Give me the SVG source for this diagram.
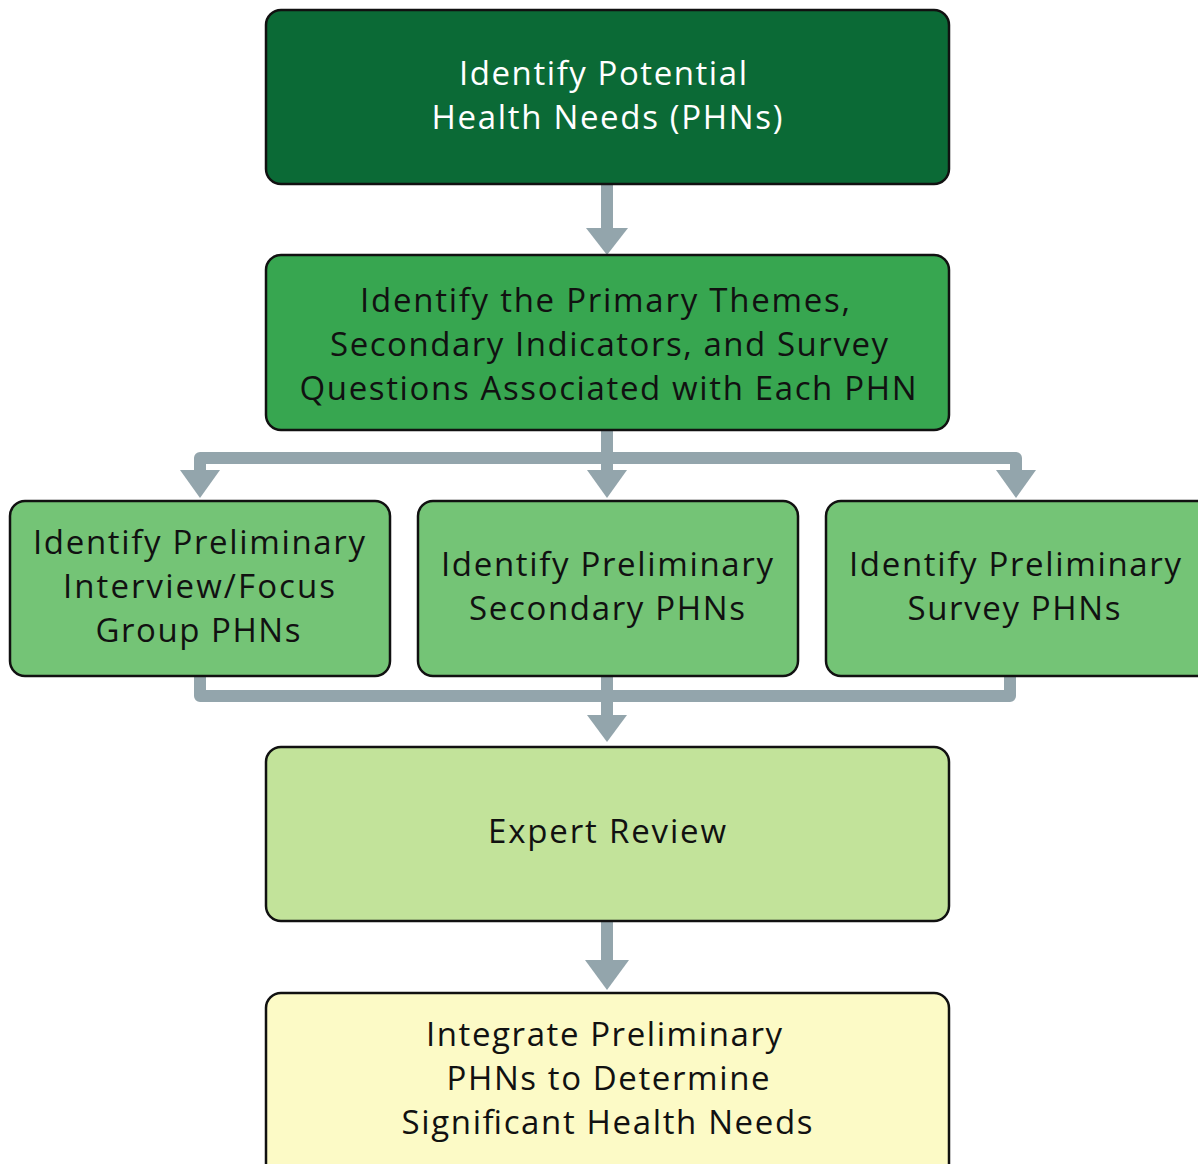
<svg xmlns="http://www.w3.org/2000/svg" width="1198" height="1164" viewBox="0 0 1198 1164">
<style>
.box{stroke:#111;stroke-width:2.5}
.t{font-family:"Open Sans","Liberation Sans",sans-serif;font-size:33px;text-anchor:middle;fill:#111}
.w{fill:#fff}
.c{fill:none;stroke:#93a5ac;stroke-width:12;stroke-linejoin:round;stroke-linecap:butt}
.h{fill:#93a5ac}
</style>
<rect width="1198" height="1164" fill="#fff"/>
<g id="connectors">
<path class="c" d="M607 184V230"/>
<polygon class="h" points="586,228 628,228 607,255"/>
<path class="c" d="M607 430V458"/>
<path class="c" d="M200 472V458H1016V472"/>
<path class="c" d="M607 458V472"/>
<polygon class="h" points="180,470 220,470 200,498"/>
<polygon class="h" points="587,470 627,470 607,498"/>
<polygon class="h" points="996,470 1036,470 1016,498"/>
<path class="c" d="M200 676V696H1010V676"/>
<path class="c" d="M607 676V718"/>
<polygon class="h" points="587,715 627,715 607,742"/>
<path class="c" d="M607 921V962"/>
<polygon class="h" points="585,960 629,960 607,990"/>
</g>
<g id="n1">
<rect class="box" x="266" y="10" width="683" height="174" rx="15" fill="#0b6a36"/>
<text class="t w" x="603" y="85" textLength="288" lengthAdjust="spacing">Identify Potential</text>
<text class="t w" x="607" y="129" textLength="351" lengthAdjust="spacing">Health Needs (PHNs)</text>
</g>
<g id="n2">
<rect class="box" x="266" y="255" width="683" height="175" rx="15" fill="#37a650"/>
<text class="t" x="605" y="312" textLength="490" lengthAdjust="spacing">Identify the Primary Themes,</text>
<text class="t" x="609" y="356" textLength="558" lengthAdjust="spacing">Secondary Indicators, and Survey</text>
<text class="t" x="608" y="400" textLength="617" lengthAdjust="spacing">Questions Associated with Each PHN</text>
</g>
<g id="n3">
<rect class="box" x="10" y="501" width="380" height="175" rx="15" fill="#74c476"/>
<text class="t" x="199" y="554" textLength="332" lengthAdjust="spacing">Identify Preliminary</text>
<text class="t" x="199" y="598" textLength="272" lengthAdjust="spacing">Interview/Focus</text>
<text class="t" x="198" y="642" textLength="205" lengthAdjust="spacing">Group PHNs</text>
</g>
<g id="n4">
<rect class="box" x="418" y="501" width="380" height="175" rx="15" fill="#74c476"/>
<text class="t" x="607" y="576" textLength="332" lengthAdjust="spacing">Identify Preliminary</text>
<text class="t" x="607" y="620" textLength="276" lengthAdjust="spacing">Secondary PHNs</text>
</g>
<g id="n5">
<rect class="box" x="826" y="501" width="390" height="175" rx="15" fill="#74c476"/>
<text class="t" x="1015" y="576" textLength="332" lengthAdjust="spacing">Identify Preliminary</text>
<text class="t" x="1014" y="620" textLength="213" lengthAdjust="spacing">Survey PHNs</text>
</g>
<g id="n6">
<rect class="box" x="266" y="747" width="683" height="174" rx="15" fill="#c2e39a"/>
<text class="t" x="607" y="843" textLength="238" lengthAdjust="spacing">Expert Review</text>
</g>
<g id="n7">
<rect class="box" x="266" y="993" width="683" height="190" rx="15" fill="#fcfac6"/>
<text class="t" x="604" y="1046" textLength="356" lengthAdjust="spacing">Integrate Preliminary</text>
<text class="t" x="608" y="1090" textLength="323" lengthAdjust="spacing">PHNs to Determine</text>
<text class="t" x="607" y="1134" textLength="411" lengthAdjust="spacing">Significant Health Needs</text>
</g>
</svg>
